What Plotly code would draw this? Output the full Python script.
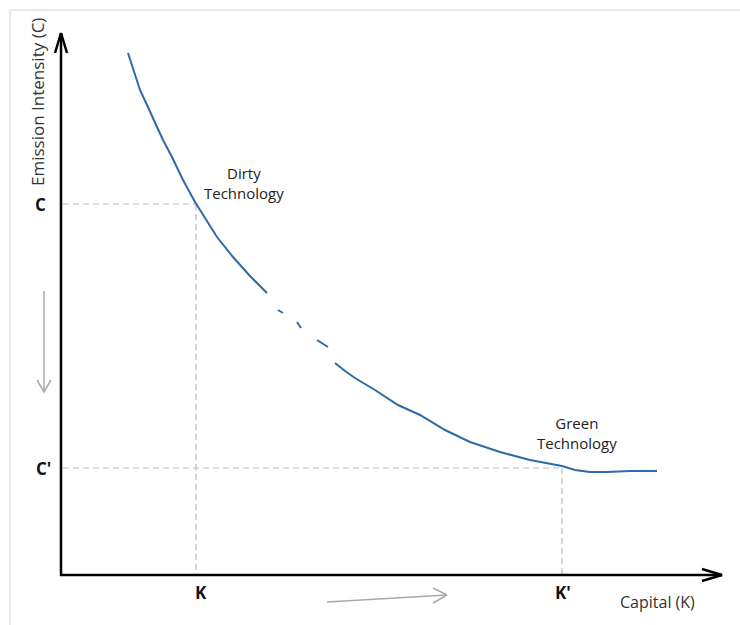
import plotly.graph_objects as go

# ---- data (diagram units: origin at axis corner) ----
curve_x = [67, 72, 79, 86, 94, 102, 111, 122, 134, 144, 156, 172, 189, 206,
           None, 217, 222, None, 236, 240, None, 256, 267, None,
           274, 284, 294, 314, 337, 359, 384, 409, 439, 469, 501, 514, 529, 546, 569, 596]
curve_y = [522, 507, 485, 470, 452, 435, 418, 395, 373, 357, 338, 318, 299, 282,
           None, 265, 262, None, 253, 247, None, 235, 228, None,
           212, 204, 197, 185, 170, 160, 145, 133, 123, 115, 109, 105, 103, 103, 104, 104]

C_level = 371
C_prime_level = 107
K_level = 135
K_prime_level = 501
x_axis_end = 661
y_axis_end = 542

tick_labels = ["C", "C'", "K", "K'"]
x_title = "Capital (K)"
y_title = "Emission Intensity (C)"
dirty_label = "Dirty<br>Technology"
green_label = "Green<br>Technology"

# gray direction arrows
cap_arrow_x = [266, 386]
cap_arrow_y = [-27, -20]
em_arrow_x = [-17, -17]
em_arrow_y = [284, 183]

fig = go.Figure()

# main curve
fig.add_trace(go.Scatter(x=curve_x, y=curve_y, mode="lines",
                         line=dict(color="#2d6aa6", width=2), hoverinfo="skip",
                         connectgaps=False))

# axes with open chevron heads
fig.add_trace(go.Scatter(x=[0, 0, x_axis_end], y=[y_axis_end, 0, 0], mode="lines",
                         line=dict(color="black", width=2.5), hoverinfo="skip"))
fig.add_trace(go.Scatter(x=[-6, 0, 6], y=[y_axis_end - 20, y_axis_end, y_axis_end - 20],
                         mode="lines", line=dict(color="black", width=2.5), hoverinfo="skip"))
fig.add_trace(go.Scatter(x=[x_axis_end - 20, x_axis_end, x_axis_end - 20], y=[6, 0, -6],
                         mode="lines", line=dict(color="black", width=2.5), hoverinfo="skip"))

# gray arrows
fig.add_trace(go.Scatter(x=cap_arrow_x, y=cap_arrow_y, mode="lines",
                         line=dict(color="#aaaaaa", width=1.5), hoverinfo="skip"))
fig.add_trace(go.Scatter(x=[cap_arrow_x[1] - 14, cap_arrow_x[1], cap_arrow_x[1] - 14],
                         y=[cap_arrow_y[1] + 7, cap_arrow_y[1], cap_arrow_y[1] - 8],
                         mode="lines", line=dict(color="#aaaaaa", width=1.5), hoverinfo="skip"))
fig.add_trace(go.Scatter(x=em_arrow_x, y=em_arrow_y, mode="lines",
                         line=dict(color="#aaaaaa", width=1.5), hoverinfo="skip"))
fig.add_trace(go.Scatter(x=[em_arrow_x[1] - 7, em_arrow_x[1], em_arrow_x[1] + 7],
                         y=[em_arrow_y[1] + 12, em_arrow_y[1], em_arrow_y[1] + 12],
                         mode="lines", line=dict(color="#aaaaaa", width=1.5), hoverinfo="skip"))

dash = dict(color="#bbbbbb", width=1.2, dash="6px,4px")
shapes = [
    dict(type="line", xref="x", yref="y", x0=2, y0=C_level, x1=K_level, y1=C_level, line=dash, layer="below"),
    dict(type="line", xref="x", yref="y", x0=K_level, y0=C_level, x1=K_level, y1=0, line=dash, layer="below"),
    dict(type="line", xref="x", yref="y", x0=2, y0=C_prime_level, x1=K_prime_level, y1=C_prime_level, line=dash, layer="below"),
    dict(type="line", xref="x", yref="y", x0=K_prime_level, y0=C_prime_level, x1=K_prime_level, y1=0, line=dash, layer="below"),
    # light frame
    dict(type="line", xref="paper", yref="paper", x0=10/740, y0=1 - 10/625, x1=1, y1=1 - 10/625,
         line=dict(color="#e0e0e0", width=1.5)),
    dict(type="line", xref="paper", yref="paper", x0=10/740, y0=0, x1=10/740, y1=1 - 10/625,
         line=dict(color="#e0e0e0", width=1.5)),
]

font = "Open Sans"
ann = [
    dict(x=-21, y=C_level, text="<b>C</b>", font=dict(size=17, color="#111", family=font)),
    dict(x=-18, y=C_prime_level, text="<b>C'</b>", font=dict(size=17, color="#111", family=font)),
    dict(x=K_level + 5, y=-17, text="<b>K</b>", font=dict(size=17, color="#111", family=font)),
    dict(x=K_prime_level + 1, y=-17, text="<b>K'</b>", font=dict(size=17, color="#111", family=font)),
    dict(x=596, y=-27, text=x_title, font=dict(size=16, color="#333", family=font)),
    dict(x=-24, y=473, text=y_title, textangle=-90, font=dict(size=17, color="#333", family=font)),
    dict(x=183, y=392, text=dirty_label, font=dict(size=15, color="#222", family=font)),
    dict(x=516, y=142, text=green_label, font=dict(size=15, color="#222", family=font)),
]
for a in ann:
    a.update(xref="x", yref="y", showarrow=False, xanchor="center", yanchor="middle")

fig.update_layout(
    width=740, height=625,
    margin=dict(l=0, r=0, t=0, b=0),
    paper_bgcolor="white", plot_bgcolor="white",
    showlegend=False,
    xaxis=dict(range=[-61, 679], visible=False, fixedrange=True),
    yaxis=dict(range=[-50, 575], visible=False, fixedrange=True),
    shapes=shapes, annotations=ann,
)

fig.write_html("out.html", config={"displayModeBar": False},
               post_script="document.body.style.margin='0';document.body.style.overflow='hidden';")
